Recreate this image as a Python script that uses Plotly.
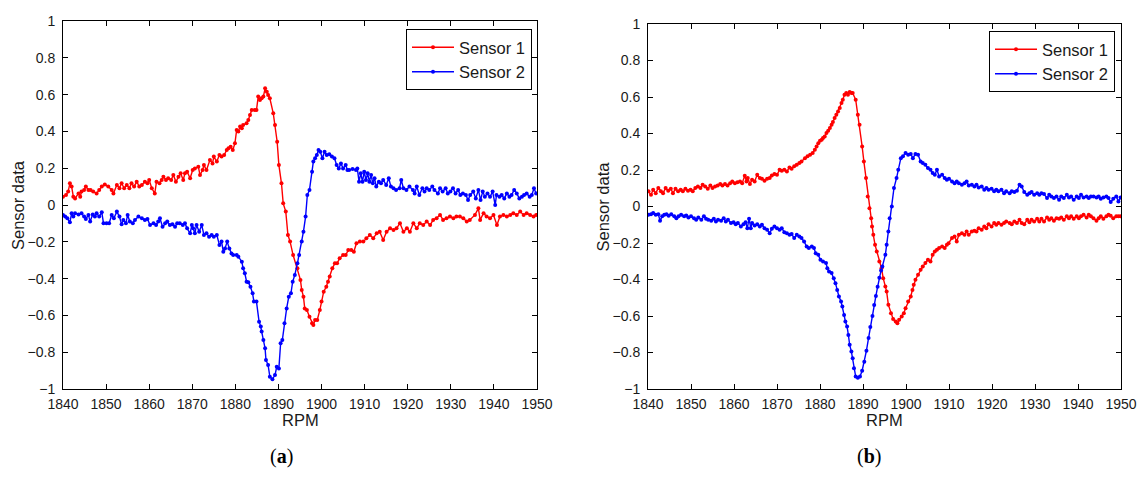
import plotly.graph_objects as go

# ---------------- Panel (a) ----------------
A_S1_RPM = [1840.0, 1840.7, 1841.2, 1841.6, 1842.0, 1842.4, 1842.8, 1843.6, 1844.0, 1844.3, 1844.9, 1845.3, 1845.9, 1846.4, 1847.0, 1847.8, 1848.4, 1849.0, 1849.7, 1850.5,
            1851.3, 1851.7, 1852.5, 1853.1, 1853.6, 1854.2, 1854.8, 1855.4, 1855.9, 1856.5, 1857.1, 1857.7, 1858.3, 1859.0, 1859.6, 1860.0, 1860.6, 1861.3, 1861.7, 1862.4,
            1862.9, 1863.3, 1863.9, 1864.4, 1865.1, 1865.6, 1866.2, 1866.8, 1867.3, 1867.9, 1868.3, 1868.8, 1869.5, 1870.1, 1870.6, 1871.4, 1871.8, 1872.4, 1872.7, 1873.3,
            1874.1, 1874.7, 1875.0, 1875.7, 1876.3, 1876.8, 1877.4, 1878.0, 1878.4, 1878.9, 1879.4, 1879.9, 1880.3, 1880.7, 1881.1, 1881.5, 1881.8, 1882.6, 1883.0, 1883.4,
            1883.8, 1884.5, 1884.9, 1885.3, 1885.7, 1886.1, 1886.5, 1886.9, 1887.3, 1887.6, 1888.0, 1888.8, 1889.2, 1889.7, 1890.1, 1890.7, 1891.1, 1891.7, 1892.2, 1892.7,
            1893.4, 1894.4, 1895.1, 1895.4, 1895.8, 1896.1, 1896.6, 1897.2, 1897.8, 1898.1, 1898.5, 1899.0, 1899.6, 1900.0, 1900.5, 1901.1, 1901.5, 1901.9, 1902.5, 1903.1,
            1903.6, 1904.2, 1905.0, 1905.6, 1906.2, 1906.9, 1907.5, 1908.1, 1908.9, 1909.7, 1910.4, 1911.2, 1912.0, 1912.8, 1913.5, 1914.3, 1915.1, 1915.9, 1916.7, 1917.4,
            1918.2, 1919.0, 1919.8, 1920.5, 1921.3, 1922.1, 1922.8, 1923.6, 1924.4, 1925.2, 1925.9, 1926.7, 1927.5, 1928.2, 1929.0, 1929.8, 1930.6, 1931.3, 1932.1, 1932.9,
            1933.7, 1934.4, 1935.6, 1936.4, 1936.8, 1937.6, 1938.3, 1939.1, 1939.9, 1940.7, 1941.4, 1942.2, 1943.0, 1943.8, 1944.5, 1945.3, 1946.1, 1946.9, 1947.6, 1948.4,
            1949.2, 1949.8]
A_S1_VAL = [0.045, 0.054, 0.073, 0.118, 0.100, 0.045, 0.036, 0.063, 0.045, 0.073, 0.082, 0.100, 0.082, 0.082, 0.073, 0.063, 0.082, 0.100, 0.112, 0.100,
            0.082, 0.063, 0.109, 0.091, 0.118, 0.091, 0.109, 0.091, 0.118, 0.100, 0.127, 0.100, 0.109, 0.127, 0.118, 0.136, 0.091, 0.063, 0.127, 0.118,
            0.136, 0.154, 0.136, 0.145, 0.136, 0.163, 0.127, 0.154, 0.172, 0.136, 0.172, 0.181, 0.145, 0.190, 0.199, 0.208, 0.163, 0.190, 0.217, 0.190,
            0.245, 0.226, 0.263, 0.236, 0.272, 0.263, 0.272, 0.299, 0.308, 0.317, 0.299, 0.335, 0.408, 0.399, 0.426, 0.417, 0.435, 0.444, 0.462, 0.489,
            0.516, 0.516, 0.516, 0.589, 0.571, 0.580, 0.589, 0.634, 0.616, 0.598, 0.580, 0.498, 0.435, 0.344, 0.217, 0.118, 0.009, -0.036, -0.163, -0.199,
            -0.272, -0.344, -0.407, -0.462, -0.498, -0.562, -0.571, -0.607, -0.643, -0.652, -0.625, -0.625, -0.571, -0.525, -0.471, -0.444, -0.417, -0.389, -0.344, -0.317,
            -0.317, -0.290, -0.272, -0.272, -0.245, -0.245, -0.254, -0.208, -0.199, -0.199, -0.181, -0.163, -0.181, -0.154, -0.145, -0.190, -0.145, -0.127, -0.136, -0.127,
            -0.099, -0.145, -0.127, -0.145, -0.099, -0.127, -0.099, -0.109, -0.090, -0.109, -0.081, -0.072, -0.054, -0.081, -0.072, -0.063, -0.072, -0.063, -0.063, -0.072,
            -0.090, -0.081, -0.054, -0.018, -0.081, -0.045, -0.063, -0.072, -0.054, -0.109, -0.063, -0.054, -0.063, -0.054, -0.045, -0.054, -0.036, -0.054, -0.045, -0.054,
            -0.063, -0.054]

A_S2_RPM = [1840.0, 1840.5, 1841.0, 1841.6, 1842.0, 1842.4, 1842.8, 1843.6, 1844.3, 1844.9, 1845.3, 1845.9, 1846.3, 1846.9, 1847.4, 1847.8, 1848.4, 1849.0, 1849.4, 1850.1,
            1850.7, 1851.3, 1851.8, 1852.5, 1853.1, 1853.6, 1854.0, 1854.6, 1855.0, 1855.5, 1856.2, 1856.7, 1857.5, 1858.3, 1859.0, 1859.6, 1860.2, 1861.0, 1861.6, 1862.1,
            1862.5, 1863.1, 1863.7, 1864.2, 1864.8, 1865.4, 1866.0, 1866.5, 1867.1, 1867.8, 1868.3, 1868.8, 1869.5, 1869.9, 1870.2, 1870.6, 1871.0, 1871.6, 1872.2, 1872.7,
            1873.3, 1873.9, 1874.5, 1875.0, 1875.7, 1876.3, 1876.8, 1877.2, 1877.6, 1878.1, 1878.6, 1879.1, 1879.5, 1880.3, 1880.7, 1881.5, 1881.8, 1882.2, 1882.6, 1883.0,
            1883.5, 1884.0, 1884.3, 1884.9, 1885.5, 1885.9, 1886.1, 1886.5, 1886.9, 1887.1, 1887.6, 1888.0, 1888.6, 1889.2, 1889.6, 1890.1, 1890.5, 1890.9, 1891.4, 1891.9,
            1892.4, 1892.9, 1893.3, 1893.8, 1894.4, 1894.8, 1895.4, 1895.8, 1896.3, 1896.7, 1897.2, 1897.8, 1898.1, 1898.5, 1898.9, 1899.3, 1899.7, 1900.2, 1900.7, 1901.2,
            1901.8, 1902.4, 1903.0, 1903.5, 1904.0, 1904.5, 1905.0, 1905.6, 1906.0, 1906.4, 1907.2, 1908.0, 1908.3, 1908.7, 1909.1, 1909.5, 1909.9, 1910.3, 1910.7, 1911.1,
            1911.5, 1911.9, 1912.3, 1912.7, 1913.3, 1913.8, 1914.3, 1915.0, 1915.6, 1916.1, 1916.7, 1917.3, 1918.1, 1918.5, 1919.0, 1919.7, 1920.4, 1921.2, 1921.6, 1922.1,
            1922.7, 1923.4, 1923.9, 1924.4, 1925.0, 1925.7, 1926.2, 1927.0, 1927.5, 1928.1, 1928.8, 1929.3, 1929.9, 1930.5, 1931.1, 1931.7, 1932.2, 1932.8, 1933.5, 1934.0,
            1934.5, 1935.2, 1935.8, 1936.4, 1936.9, 1937.4, 1937.9, 1938.5, 1939.1, 1939.7, 1940.3, 1940.6, 1941.3, 1941.8, 1942.4, 1943.0, 1943.6, 1944.1, 1944.7, 1945.3,
            1945.9, 1946.5, 1947.0, 1947.6, 1948.3, 1948.8, 1949.3, 1949.8]
A_S2_VAL = [-0.054, -0.063, -0.072, -0.094, -0.045, -0.063, -0.045, -0.051, -0.045, -0.063, -0.076, -0.054, -0.090, -0.051, -0.063, -0.045, -0.063, -0.040, -0.099, -0.099,
            -0.099, -0.054, -0.072, -0.036, -0.063, -0.105, -0.081, -0.099, -0.054, -0.090, -0.099, -0.081, -0.063, -0.072, -0.081, -0.076, -0.109, -0.099, -0.109, -0.090,
            -0.072, -0.118, -0.099, -0.090, -0.109, -0.105, -0.118, -0.099, -0.099, -0.109, -0.099, -0.127, -0.154, -0.109, -0.127, -0.154, -0.109, -0.145, -0.109, -0.163,
            -0.154, -0.172, -0.163, -0.172, -0.163, -0.217, -0.199, -0.254, -0.236, -0.199, -0.236, -0.263, -0.272, -0.272, -0.281, -0.308, -0.344, -0.371, -0.417, -0.420,
            -0.444, -0.480, -0.525, -0.525, -0.634, -0.661, -0.688, -0.734, -0.779, -0.842, -0.870, -0.933, -0.947, -0.924, -0.879, -0.888, -0.752, -0.734, -0.643, -0.562,
            -0.498, -0.480, -0.417, -0.380, -0.317, -0.272, -0.199, -0.145, -0.063, 0.054, 0.082, 0.181, 0.236, 0.254, 0.272, 0.299, 0.290, 0.254, 0.290, 0.272,
            0.276, 0.263, 0.254, 0.217, 0.199, 0.226, 0.199, 0.217, 0.190, 0.190, 0.196, 0.190, 0.199, 0.127, 0.172, 0.127, 0.181, 0.136, 0.172, 0.127,
            0.163, 0.118, 0.145, 0.100, 0.127, 0.118, 0.136, 0.109, 0.145, 0.100, 0.091, 0.082, 0.091, 0.136, 0.091, 0.082, 0.100, 0.082, 0.063, 0.100,
            0.054, 0.091, 0.073, 0.091, 0.082, 0.100, 0.082, 0.063, 0.091, 0.073, 0.091, 0.063, 0.073, 0.091, 0.063, 0.082, 0.054, 0.063, 0.054, 0.027,
            0.054, 0.073, 0.036, 0.082, 0.027, 0.073, 0.045, 0.063, 0.045, 0.073, 0.000, 0.054, 0.045, 0.054, 0.036, 0.063, 0.045, 0.054, 0.082, 0.063,
            0.036, 0.045, 0.054, 0.063, 0.045, 0.054, 0.091, 0.063]

# ---------------- Panel (b) ----------------
B_S1_RPM = [1840.1, 1840.7, 1841.2, 1841.8, 1842.4, 1843.0, 1843.5, 1844.1, 1844.7, 1845.3, 1845.8, 1846.4, 1847.0, 1847.6, 1848.1, 1848.7, 1849.3, 1849.9, 1850.4, 1851.0,
            1851.6, 1852.2, 1852.7, 1853.3, 1853.9, 1854.5, 1855.0, 1855.6, 1856.2, 1856.8, 1857.3, 1857.9, 1858.5, 1859.1, 1859.6, 1860.2, 1860.8, 1861.4, 1861.9, 1862.5,
            1862.9, 1863.2, 1863.7, 1864.2, 1864.8, 1865.4, 1866.0, 1866.5, 1867.1, 1867.7, 1868.3, 1868.8, 1869.4, 1870.0, 1870.6, 1871.1, 1871.7, 1872.3, 1872.9, 1873.4,
            1874.0, 1874.6, 1875.2, 1875.7, 1876.5, 1877.1, 1877.7, 1878.3, 1878.8, 1879.2, 1879.6, 1880.0, 1880.4, 1880.7, 1881.1, 1881.5, 1881.9, 1882.3, 1882.7, 1883.0,
            1883.4, 1883.8, 1884.2, 1884.6, 1885.0, 1885.3, 1885.7, 1886.1, 1886.5, 1886.9, 1887.3, 1887.6, 1888.3, 1888.8, 1889.2, 1889.8, 1890.2, 1890.7, 1891.1, 1891.5,
            1891.9, 1892.1, 1892.4, 1892.8, 1893.2, 1893.8, 1894.3, 1894.7, 1895.2, 1895.5, 1895.9, 1896.5, 1897.0, 1897.6, 1898.0, 1898.4, 1899.0, 1899.5, 1899.9, 1900.5,
            1901.1, 1901.5, 1901.8, 1902.2, 1902.8, 1903.4, 1903.9, 1904.5, 1905.1, 1905.7, 1906.2, 1906.7, 1907.2, 1907.7, 1908.4, 1909.0, 1909.5, 1909.9, 1910.7, 1911.3,
            1911.8, 1912.3, 1913.0, 1913.6, 1914.1, 1914.6, 1915.3, 1915.9, 1916.4, 1916.9, 1917.6, 1918.2, 1918.7, 1919.2, 1919.9, 1920.5, 1921.0, 1921.5, 1922.2, 1922.8,
            1923.3, 1924.1, 1924.6, 1925.2, 1925.8, 1926.4, 1926.9, 1927.5, 1928.2, 1928.7, 1929.2, 1929.8, 1930.5, 1931.0, 1931.5, 1932.1, 1932.8, 1933.3, 1933.8, 1934.4,
            1935.0, 1935.6, 1936.1, 1936.7, 1937.4, 1937.9, 1938.4, 1939.0, 1939.7, 1940.2, 1940.7, 1941.3, 1942.0, 1942.5, 1943.0, 1943.6, 1944.3, 1944.8, 1945.3, 1945.9,
            1946.6, 1947.1, 1947.6, 1948.2, 1948.9, 1949.4, 1949.9]
B_S1_VAL = [0.083, 0.064, 0.092, 0.073, 0.101, 0.083, 0.073, 0.101, 0.086, 0.097, 0.073, 0.097, 0.083, 0.092, 0.083, 0.097, 0.086, 0.092, 0.083, 0.101,
            0.110, 0.101, 0.119, 0.110, 0.097, 0.115, 0.101, 0.110, 0.115, 0.123, 0.115, 0.123, 0.115, 0.128, 0.137, 0.128, 0.133, 0.137, 0.128, 0.168,
            0.137, 0.156, 0.123, 0.147, 0.137, 0.174, 0.156, 0.152, 0.141, 0.152, 0.156, 0.170, 0.178, 0.174, 0.201, 0.196, 0.201, 0.192, 0.214, 0.207,
            0.220, 0.229, 0.238, 0.247, 0.265, 0.275, 0.284, 0.293, 0.311, 0.329, 0.347, 0.360, 0.366, 0.375, 0.384, 0.403, 0.415, 0.430, 0.448, 0.463,
            0.485, 0.503, 0.521, 0.540, 0.567, 0.585, 0.613, 0.622, 0.613, 0.627, 0.622, 0.622, 0.585, 0.503, 0.448, 0.329, 0.247, 0.156, 0.055, -0.009,
            -0.064, -0.109, -0.155, -0.210, -0.247, -0.301, -0.338, -0.393, -0.438, -0.466, -0.539, -0.585, -0.616, -0.630, -0.640, -0.621, -0.603, -0.585, -0.557, -0.521,
            -0.493, -0.457, -0.429, -0.402, -0.374, -0.347, -0.329, -0.310, -0.292, -0.301, -0.265, -0.247, -0.237, -0.228, -0.219, -0.228, -0.210, -0.201, -0.173, -0.164,
            -0.192, -0.155, -0.146, -0.155, -0.137, -0.155, -0.137, -0.133, -0.137, -0.119, -0.128, -0.109, -0.119, -0.097, -0.109, -0.091, -0.100, -0.091, -0.100, -0.091,
            -0.082, -0.091, -0.097, -0.082, -0.091, -0.073, -0.091, -0.097, -0.073, -0.086, -0.073, -0.082, -0.067, -0.082, -0.067, -0.082, -0.060, -0.073, -0.064, -0.078,
            -0.064, -0.067, -0.060, -0.073, -0.054, -0.064, -0.054, -0.067, -0.054, -0.064, -0.054, -0.045, -0.060, -0.045, -0.054, -0.064, -0.078, -0.064, -0.054, -0.067,
            -0.054, -0.045, -0.051, -0.064, -0.054, -0.054, -0.054]

B_S2_RPM = [1840.1, 1840.7, 1841.2, 1841.8, 1842.4, 1842.8, 1843.3, 1843.8, 1844.3, 1844.8, 1845.4, 1846.1, 1846.6, 1847.1, 1847.7, 1848.4, 1848.9, 1849.4, 1850.0, 1850.7,
            1851.2, 1851.7, 1852.4, 1853.0, 1853.5, 1854.0, 1854.7, 1855.3, 1855.8, 1856.3, 1857.0, 1857.6, 1858.1, 1858.6, 1859.3, 1859.9, 1860.4, 1860.9, 1861.6, 1862.2,
            1862.7, 1863.1, 1863.5, 1863.9, 1864.2, 1864.8, 1865.4, 1866.0, 1866.5, 1867.1, 1867.7, 1868.3, 1868.8, 1869.4, 1870.0, 1870.6, 1871.1, 1871.7, 1872.3, 1872.9,
            1873.4, 1874.0, 1874.6, 1875.2, 1875.7, 1876.3, 1876.9, 1877.4, 1878.1, 1878.6, 1879.0, 1879.6, 1880.1, 1880.7, 1881.4, 1881.7, 1882.1, 1882.7, 1883.2, 1883.6,
            1884.0, 1884.4, 1884.9, 1885.2, 1885.6, 1885.9, 1886.3, 1886.6, 1886.9, 1887.3, 1887.6, 1887.9, 1888.3, 1888.8, 1889.3, 1889.8, 1890.3, 1890.8, 1891.3, 1891.7,
            1892.2, 1892.6, 1893.0, 1893.4, 1893.8, 1894.2, 1894.5, 1895.2, 1895.5, 1895.9, 1896.2, 1896.7, 1897.2, 1897.8, 1898.2, 1898.8, 1899.3, 1899.9, 1900.5, 1901.1,
            1901.6, 1902.2, 1902.8, 1903.4, 1903.9, 1904.5, 1905.1, 1905.7, 1906.2, 1906.7, 1907.2, 1907.7, 1908.4, 1909.0, 1909.5, 1910.0, 1910.7, 1911.3, 1911.8, 1912.3,
            1913.0, 1913.6, 1914.1, 1914.6, 1915.3, 1915.9, 1916.4, 1916.9, 1917.6, 1918.2, 1918.7, 1919.2, 1919.9, 1920.5, 1921.0, 1921.5, 1922.2, 1922.8, 1923.3, 1924.1,
            1924.6, 1925.2, 1925.8, 1926.4, 1926.9, 1927.5, 1928.2, 1928.7, 1929.2, 1929.8, 1930.5, 1931.0, 1931.5, 1932.1, 1932.8, 1933.3, 1933.8, 1934.4, 1935.0, 1935.6,
            1936.1, 1936.7, 1937.4, 1937.9, 1938.4, 1939.0, 1939.7, 1940.2, 1940.7, 1941.3, 1942.0, 1942.5, 1943.0, 1943.6, 1944.3, 1944.8, 1945.3, 1945.9, 1946.6, 1947.1,
            1947.6, 1948.2, 1948.9, 1949.4, 1949.9]
B_S2_VAL = [-0.045, -0.042, -0.036, -0.045, -0.042, -0.078, -0.054, -0.045, -0.042, -0.051, -0.042, -0.054, -0.064, -0.054, -0.045, -0.054, -0.049, -0.060, -0.054, -0.064,
            -0.073, -0.060, -0.073, -0.054, -0.067, -0.073, -0.078, -0.067, -0.082, -0.073, -0.078, -0.064, -0.082, -0.073, -0.091, -0.086, -0.097, -0.091, -0.109, -0.097,
            -0.086, -0.119, -0.067, -0.119, -0.091, -0.104, -0.097, -0.109, -0.100, -0.119, -0.128, -0.146, -0.122, -0.109, -0.119, -0.128, -0.119, -0.141, -0.146, -0.155,
            -0.151, -0.173, -0.155, -0.164, -0.173, -0.192, -0.219, -0.228, -0.219, -0.228, -0.256, -0.265, -0.292, -0.301, -0.310, -0.338, -0.356, -0.365, -0.393, -0.420,
            -0.457, -0.493, -0.521, -0.548, -0.594, -0.630, -0.658, -0.704, -0.758, -0.795, -0.832, -0.886, -0.932, -0.938, -0.932, -0.900, -0.850, -0.790, -0.720, -0.660,
            -0.600, -0.540, -0.490, -0.440, -0.390, -0.350, -0.329, -0.265, -0.210, -0.137, -0.064, 0.000, 0.101, 0.156, 0.201, 0.265, 0.275, 0.293, 0.284, 0.287,
            0.265, 0.287, 0.284, 0.247, 0.238, 0.229, 0.211, 0.201, 0.183, 0.174, 0.201, 0.165, 0.174, 0.156, 0.147, 0.152, 0.137, 0.128, 0.137, 0.128,
            0.119, 0.128, 0.137, 0.115, 0.119, 0.110, 0.119, 0.104, 0.110, 0.092, 0.101, 0.092, 0.097, 0.083, 0.092, 0.083, 0.092, 0.073, 0.083, 0.073,
            0.083, 0.079, 0.086, 0.119, 0.110, 0.079, 0.064, 0.073, 0.079, 0.064, 0.073, 0.064, 0.073, 0.068, 0.046, 0.064, 0.055, 0.046, 0.055, 0.037,
            0.055, 0.046, 0.064, 0.049, 0.055, 0.037, 0.055, 0.046, 0.064, 0.049, 0.055, 0.046, 0.055, 0.055, 0.049, 0.055, 0.042, 0.049, 0.055, 0.046,
            0.024, 0.042, 0.055, 0.028, 0.049]

SERIES_NAMES = ["Sensor 1", "Sensor 2"]
SERIES_COLORS = ["#ff0000", "#0000ff"]
X_TICKS = [1840, 1850, 1860, 1870, 1880, 1890, 1900, 1910, 1920, 1930, 1940, 1950]
Y_TICKS = [-1, -0.8, -0.6, -0.4, -0.2, 0, 0.2, 0.4, 0.6, 0.8, 1]
Y_TICK_TEXT = ["\u22121", "\u22120.8", "\u22120.6", "\u22120.4", "\u22120.2", "0", "0.2", "0.4", "0.6", "0.8", "1"]
X_LABEL = "RPM"
Y_LABEL = "Sensor data"
CAPTIONS = ["(<b>a</b>)", "(<b>b</b>)"]

# The page body has an 8px margin: the figure starts 8px in from the window edge.
OFF = 8
W, H = 1148 - OFF, 478 - 2 * OFF
FONT = "Liberation Sans, Arial, Helvetica, sans-serif"


def px(xp):
    """window x pixel -> paper fraction"""
    return (xp - OFF) / W


def py(yp):
    """window y pixel -> paper fraction"""
    return 1 - (yp - OFF) / H


fig = go.Figure()

panels = [
    ("x", "y", "legend", [(A_S1_RPM, A_S1_VAL), (A_S2_RPM, A_S2_VAL)]),
    ("x2", "y2", "legend2", [(B_S1_RPM, B_S1_VAL), (B_S2_RPM, B_S2_VAL)]),
]
for xa, ya, leg, series in panels:
    for (rx, vy), name, col in zip(series, SERIES_NAMES, SERIES_COLORS):
        fig.add_trace(go.Scatter(
            x=rx, y=vy, name=name, mode="lines+markers",
            line=dict(color=col, width=1.4),
            marker=dict(color=col, size=4),
            xaxis=xa, yaxis=ya, legend=leg,
        ))

# plot area boxes in window pixels (left, right, top, bottom)
boxes = [(63, 537, 21, 389), (648, 1121, 24, 389)]

axis_common = dict(
    showline=True, linecolor="black", linewidth=1, mirror="ticks",
    ticks="inside", ticklen=5, tickcolor="black", tickwidth=1,
    showgrid=False, zeroline=False, automargin=False,
    tickfont=dict(family=FONT, size=14, color="#1a1a1a"),
)
xaxis_common = dict(axis_common, ticklabelstandoff=2)
yaxis_common = dict(axis_common, ticklabelstandoff=4)

legend_common = dict(
    xanchor="right", yanchor="top",
    bgcolor="white", bordercolor="black", borderwidth=1,
    font=dict(family=FONT, size=16.5, color="#1a1a1a"),
    tracegroupgap=0, itemwidth=42,
)

fig.update_layout(
    width=W, height=H,
    margin=dict(l=0, r=0, t=0, b=0, autoexpand=False),
    paper_bgcolor="white", plot_bgcolor="white",
    showlegend=True,
    xaxis=dict(domain=[px(boxes[0][0]), px(boxes[0][1])], anchor="y", range=[1840, 1950],
               tickvals=X_TICKS, **xaxis_common),
    yaxis=dict(domain=[py(boxes[0][3]), py(boxes[0][2])], anchor="x", range=[-1, 1],
               tickvals=Y_TICKS, ticktext=Y_TICK_TEXT, **yaxis_common),
    xaxis2=dict(domain=[px(boxes[1][0]), px(boxes[1][1])], anchor="y2", range=[1840, 1950],
                tickvals=X_TICKS, **xaxis_common),
    yaxis2=dict(domain=[py(boxes[1][3]), py(boxes[1][2])], anchor="x2", range=[-1, 1],
                tickvals=Y_TICKS, ticktext=Y_TICK_TEXT, **yaxis_common),
    legend=dict(x=px(532), y=py(29), **legend_common),
    legend2=dict(x=px(1115), y=py(31), **legend_common),
)

annotations = []
for b, cap, cx in zip(boxes, CAPTIONS, [281, 869]):
    annotations.append(dict(text=X_LABEL, x=px((b[0] + b[1]) / 2), y=py(420),
                            xref="paper", yref="paper", showarrow=False,
                            xanchor="center", yanchor="middle",
                            font=dict(family=FONT, size=16.5, color="#1a1a1a")))
    annotations.append(dict(text=Y_LABEL, x=px(b[0] - 45), y=py((b[2] + b[3]) / 2),
                            xref="paper", yref="paper", showarrow=False, textangle=-90,
                            xanchor="center", yanchor="middle",
                            font=dict(family=FONT, size=16.5, color="#1a1a1a")))
    annotations.append(dict(text=cap, x=px(cx), y=0,
                            xref="paper", yref="paper", showarrow=False,
                            xanchor="center", yanchor="bottom",
                            font=dict(family="Liberation Serif, DejaVu Serif, serif", size=20, color="black")))
fig.update_layout(annotations=annotations)

fig.write_html("out.html")
